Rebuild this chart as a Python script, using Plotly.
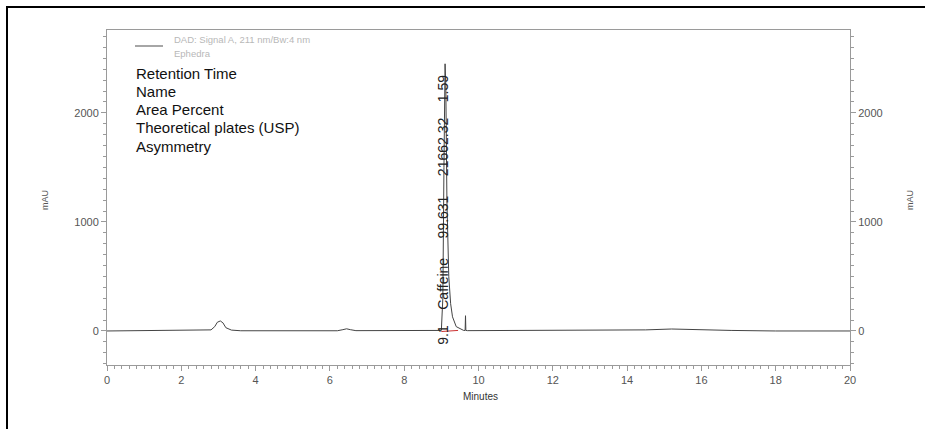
import plotly.graph_objects as go

# Chromatogram points (minutes, mAU)
time_min = [0, 2.5, 2.8, 2.9, 2.97, 3.05, 3.12, 3.2, 3.35, 3.6, 6.2, 6.35, 6.45, 6.55, 6.7,
            9.0, 9.04, 9.07, 9.1, 9.12, 9.15, 9.2, 9.25, 9.3, 9.4, 9.6, 9.64, 9.65, 9.66, 9.7,
            11.5, 12.0, 13.0, 14.5, 15.2, 15.8, 16.8, 18.0, 20.0]
signal_mau = [0, 3, 10, 40, 80, 92, 75, 30, 8, 2, 2, 12, 20, 12, 3,
              5, 300, 1500, 2450, 2250, 1200, 500, 250, 130, 40, 5, 5, 140, 5, 3,
              5, 10, 8, 10, 18, 12, 5, 0, 0]

# integration baseline marks (red)
base_t = [9.0, 9.45]
base_v = [-5, 5]

peak_label = "9.1    Caffeine     99.631     21662.32    1.59"
peak_rt = 9.04
info_labels = ["Retention Time", "Name", "Area Percent", "Theoretical plates (USP)", "Asymmetry"]
legend_lines = ["DAD: Signal A, 211 nm/Bw:4 nm", "Ephedra"]

x_ticks = [0, 2, 4, 6, 8, 10, 12, 14, 16, 18, 20]
y_ticks = [0, 1000, 2000]
y_range = [-312, 2760]

gray = "#9a9a9a"
font_fam = "Liberation Sans, Arial"
tickfont = dict(family=font_fam, size=11, color="#555555")

# plot area on screen: left 107, right 850, top 30, bottom 365
PW, PH = 743, 335


def px(xp):
    return (xp - 107) / PW


def py(yp):
    return (365 - yp) / PH


fig = go.Figure()
fig.add_trace(go.Scatter(x=time_min, y=signal_mau, mode="lines",
                         line=dict(color="#444444", width=1), showlegend=False))
fig.add_trace(go.Scatter(x=base_t, y=base_v, mode="lines",
                         line=dict(color="#cc3333", width=1), showlegend=False))
fig.add_trace(go.Scatter(x=[None], y=[None], yaxis="y2", showlegend=False))

fig.update_layout(
    width=925, height=429,
    margin=dict(l=107, r=75, t=30, b=64),
    paper_bgcolor="white", plot_bgcolor="white",
    xaxis=dict(range=[0, 20], tickvals=x_ticks, showgrid=False, zeroline=False,
               automargin=False,
               showline=True, linecolor=gray, mirror=True, ticks="outside",
               tickcolor=gray, ticklen=5, tickfont=tickfont,
               minor=dict(dtick=0.2, ticks="outside", ticklen=3, tickcolor=gray)),
    yaxis=dict(range=y_range, tickvals=y_ticks, showgrid=False, zeroline=False,
               automargin=False,
               showline=True, linecolor=gray, ticks="outside", tickcolor=gray,
               ticklen=5, tickfont=tickfont,
               minor=dict(dtick=100, ticks="outside", ticklen=3, tickcolor=gray)),
    yaxis2=dict(range=y_range, tickvals=y_ticks, overlaying="y", side="right",
                automargin=False,
                showgrid=False, zeroline=False, showline=True, linecolor=gray,
                ticks="outside", tickcolor=gray, ticklen=5, tickfont=tickfont,
                minor=dict(dtick=100, ticks="outside", ticklen=3, tickcolor=gray)),
)

# axis titles
fig.add_annotation(xref="paper", yref="paper", x=px(480), y=py(404), text="Minutes",
                   showarrow=False, font=dict(family=font_fam, size=10, color="#333333"))
fig.add_annotation(xref="paper", yref="paper", x=px(38), y=py(200), text="mAU", textangle=-90,
                   showarrow=False, font=dict(family=font_fam, size=9, color="#555555"))
fig.add_annotation(xref="paper", yref="paper", x=px(917), y=py(200), text="mAU", textangle=-90,
                   showarrow=False, font=dict(family=font_fam, size=9, color="#555555"))

# outer black frame
fig.add_shape(type="rect", xref="paper", yref="paper",
              x0=px(7), x1=px(940), y0=py(440), y1=py(7),
              line=dict(color="black", width=2), fillcolor="rgba(0,0,0,0)")

# legend sample line and text
fig.add_shape(type="line", xref="paper", yref="paper",
              x0=px(135), x1=px(163), y0=py(46), y1=py(46),
              line=dict(color="#888888", width=1.5))
for i, txt in enumerate(legend_lines):
    fig.add_annotation(xref="paper", yref="paper", x=px(172), y=py(40 + 13 * i),
                       text=txt, showarrow=False, xanchor="left", yanchor="middle",
                       font=dict(family=font_fam, size=9.5, color="#b8b8b8"))

for i, txt in enumerate(info_labels):
    fig.add_annotation(xref="paper", yref="paper", x=px(134), y=py(73 + 18.25 * i),
                       text=txt, showarrow=False, xanchor="left", yanchor="middle",
                       font=dict(family=font_fam, size=15, color="#111111"))

fig.add_annotation(x=peak_rt, y=1110, text=peak_label, textangle=-90, showarrow=False,
                   font=dict(family=font_fam, size=14, color="#222222"))

fig.write_html("out.html", config={"displayModeBar": False},
               post_script="document.body.style.margin='0';document.body.style.overflow='hidden';")
